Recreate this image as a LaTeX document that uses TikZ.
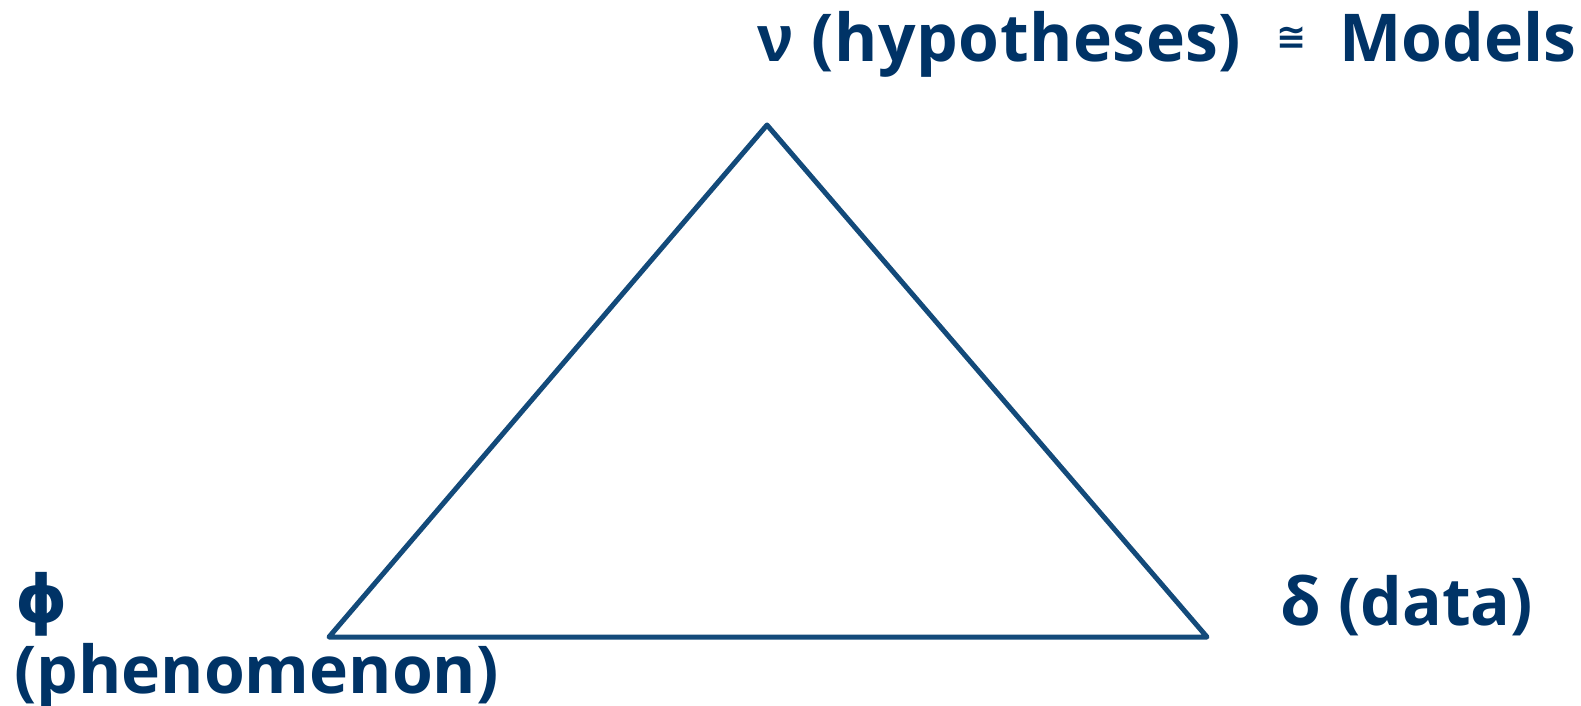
\documentclass[tikz,border=0pt]{standalone}
\usepackage{fontspec}
\setmainfont{Open Sans}
\newfontfamily\symfont{DejaVu Sans}
\newfontfamily\nufont{Liberation Sans}
\newfontfamily\spacedfont[LetterSpace=0.8]{Open Sans}
\definecolor{txtblue}{HTML}{003366}
\definecolor{lineblue}{HTML}{134A7A}
\begin{document}
\begin{tikzpicture}[x=1pt,y=-1pt,
  lbl/.style={anchor=base west,inner sep=0pt,text=txtblue,font=\fontsize{66}{72}\selectfont\bfseries},
  tri/.style={draw=lineblue,line width=5pt,line join=round}]
\useasboundingbox (0,0) rectangle (1581,706);
\coordinate (apex) at (767,125);
\coordinate (left) at (329,637);
\coordinate (right) at (1207,637);
\draw[tri] (apex) -- (right) -- (left) -- cycle;
\node[lbl] (top) at (757,62) {{\nufont\bfseries ν}{\spacedfont\bfseries\ (hypotheses)}\hspace{35pt}\raisebox{12pt}{\symfont\fontsize{36}{40}\selectfont ≅}\hspace{33pt}Models};
\node[lbl] (phi) at (15,622) {{\symfont\bfseries ϕ}};
\node[lbl] (phen) at (14,693) {(phenomenon)};
\node[lbl] (data) at (1280,625) {δ (data)};
\end{tikzpicture}
\end{document}
